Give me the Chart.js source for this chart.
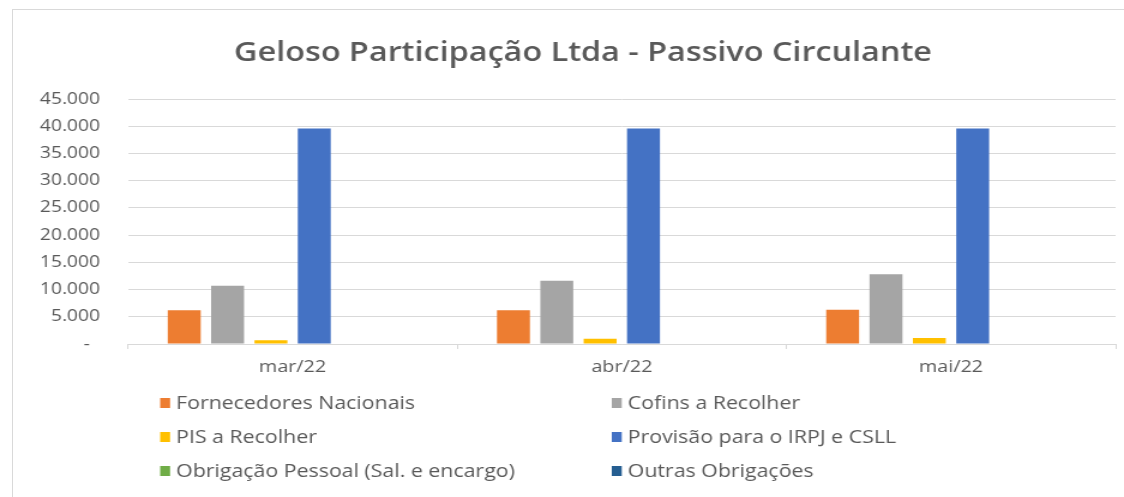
<!DOCTYPE html>
<html>
<head>
<meta charset="utf-8">
<script src="https://cdn.jsdelivr.net/npm/chart.js@4/dist/chart.umd.min.js"></script>
<style>
  html, body { margin: 0; padding: 0; background: #fff; }
  #wrap { position: relative; width: 1124px; height: 497px; overflow: hidden; }
  #frame { position: absolute; left: 12px; top: 9px; right: 0; height: 500px; border-left: 1px solid #d9d9d9; border-top: 1px solid #d9d9d9; }
  /* the source picture is a little wider than tall, so the canvas is stretched sideways */
  #chart { position: absolute; left: 0; top: 0; width: 1124px !important; height: 497px !important; }
</style>
</head>
<body>
<div id="wrap">
  <div id="frame"></div>
  <canvas id="chart" width="937" height="497" style="width:1124px;height:497px"></canvas>
</div>
<script>
const title = 'Geloso Participação Ltda - Passivo Circulante';
const months = ['mar/22', 'abr/22', 'mai/22'];

const fornecedores = [6200, 6200, 6300];
const cofins = [10700, 11600, 12800];
const pis = [700, 950, 1100];
const irpj = [39600, 39600, 39600];
const obrigacao = [0, 0, 0];
const outras = [0, 0, 0];

const seriesNames = [
	'Fornecedores Nacionais',
	'Cofins a Recolher',
	'PIS a Recolher',
	'Provisão para o IRPJ e CSLL',
	'Obrigação Pessoal (Sal. e encargo)',
	'Outras Obrigações',
];
const seriesColors = ['#ED7D31', '#A5A5A5', '#FFC000', '#4472C4', '#70AD47', '#255E91'];
const seriesData = [fornecedores, cofins, pis, irpj, obrigacao, outras];

const textColor = '#595959';
const gridColor = '#d9d9d9';
const font = '"Open Sans", "Noto Sans", sans-serif';

const formatThousands = (v) => {
	if (v === 0) return '-  ';
	return String(v).replace(/\B(?=(\d{3})+(?!\d))/g, '.');
};

// title centred over the frame rather than the whole canvas
const frameTitle = {
	id: 'frameTitle',
	afterDraw(chart) {
		const ctx = chart.ctx;
		ctx.save();
		ctx.font = '600 27px ' + font;
		ctx.fillStyle = textColor;
		ctx.textAlign = 'center';
		ctx.textBaseline = 'middle';
		ctx.fillText(title, (42 + chart.chartArea.right) / 2, 53);
		ctx.restore();
	},
};

// legend in two columns below the axis, like the spreadsheet one
const gridLegend = {
	id: 'gridLegend',
	afterDraw(chart) {
		const ctx = chart.ctx;
		const area = chart.chartArea;
		const cols = [133.5, 510];
		const rowTop = area.bottom + 59;
		const rowGap = 34;
		ctx.save();
		ctx.font = '17.8px ' + font;
		ctx.textBaseline = 'middle';
		ctx.textAlign = 'left';
		chart.data.datasets.forEach((ds, i) => {
			const x = cols[i % 2];
			const y = rowTop + Math.floor(i / 2) * rowGap;
			ctx.fillStyle = ds.backgroundColor;
			ctx.fillRect(x, y - 5, 8.3, 10);
			ctx.fillStyle = textColor;
			ctx.fillText(ds.label, x + 13.3, y + 1);
		});
		ctx.restore();
	},
};

new Chart(document.getElementById('chart'), {
	type: 'bar',
	data: {
		labels: months,
		datasets: seriesNames.map((name, i) => ({
			label: name,
			data: seriesData[i],
			backgroundColor: seriesColors[i],
			borderWidth: 0,
			categoryPercentage: 0.79,
			barPercentage: 0.76,
		})),
	},
	options: {
		responsive: false,
		animation: false,
		devicePixelRatio: 1,
		layout: { padding: { left: 0, right: 7, top: 99, bottom: 113 } },
		plugins: {
			legend: { display: false },
			tooltip: { enabled: false },
			title: { display: false },
		},
		scales: {
			x: {
				afterFit: (s) => { s.height = 40; },
				grid: {
					offset: true,
					drawOnChartArea: false,
					drawTicks: true,
					tickLength: 5,
					color: gridColor,
				},
				border: { color: gridColor },
				ticks: { color: textColor, font: { family: font, size: 16.5 }, padding: 8 },
			},
			y: {
				min: 0,
				max: 45000,
				afterFit: (s) => { s.width = 106.7; },
				grid: { color: gridColor, drawTicks: false },
				border: { display: false },
				ticks: {
					stepSize: 5000,
					padding: 23.4,
					color: textColor,
					font: { family: font, size: 16 },
					callback: (v) => formatThousands(v),
				},
			},
		},
	},
	plugins: [frameTitle, gridLegend],
});
</script>
</body>
</html>
